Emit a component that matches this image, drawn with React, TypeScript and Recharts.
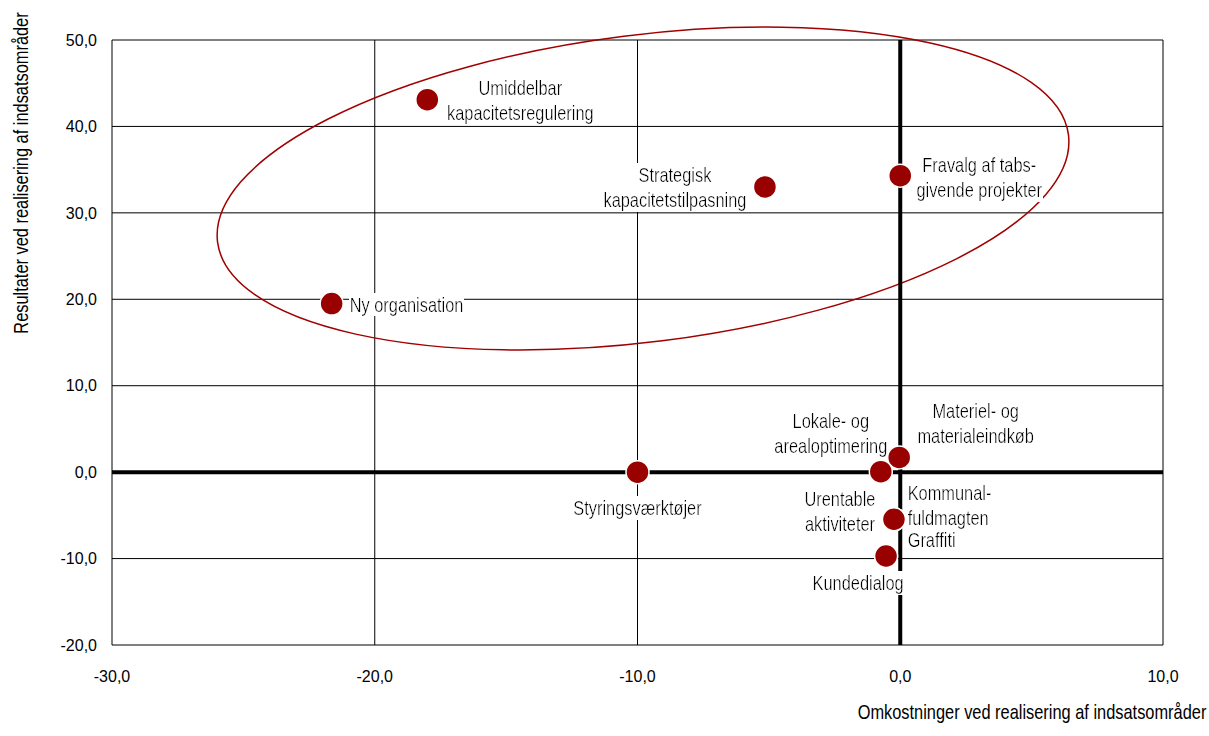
import { ScatterChart, Scatter, XAxis, YAxis, CartesianGrid, ReferenceLine, ReferenceArea } from "recharts";

// indsatsområder: label text (\n = line break), cost (x) and result (y)
const CATEGORIES = [
  "Umiddelbar\nkapacitetsregulering",
  "Strategisk\nkapacitetstilpasning",
  "Fravalg af tabs-\ngivende projekter",
  "Ny organisation",
  "Styringsværktøjer",
  "Lokale- og\narealoptimering",
  "Materiel- og\nmaterialeindkøb",
  "Urentable\naktiviteter",
  "Kommunal-\nfuldmagten",
  "Graffiti",
  "Kundedialog",
];
const COSTS = [-18.0, -5.15, 0.0, -21.64, -10.0, -0.74, -0.04, -0.24, -0.24, -0.24, -0.54];
const RESULTS = [43.1, 33.0, 34.3, 19.5, 0.0, 0.05, 1.7, -5.45, -5.45, -5.45, -9.7];

const X_TICKS = [-30, -20, -10, 0, 10];
const Y_TICKS = [-20, -10, 0, 10, 20, 30, 40, 50];

// the hand-drawn ellipse round the top group, as a box in data units
const ELLIPSE_X = [-26.0, 6.42];
const ELLIPSE_Y = [14.13, 51.5];

// label placement (pixels from the dot)
const LABEL_DX = [93, -90, 79, 18, 0, -50, 76.5, -54, 13.7, 13.7, -28];
const LABEL_DY = [-12, -11.5, -11, 1, 35.6, -50.7, -46.7, -20.6, -26, 20.4, 27.3];
const LABEL_ANCHOR = ["middle", "middle", "middle", "start", "middle", "middle", "middle", "middle", "start", "start", "middle"];
const LINE_GAP = 25;

const FONT = "'Liberation Sans', Arial, sans-serif";
const NARROW = 0.82; // no Arial Narrow installed: squeeze Liberation Sans
const RED = "#990000";

const data = CATEGORIES.map((name, i) => ({ name, x: COSTS[i], y: RESULTS[i], i }));

const fmt = (v: number) => v.toFixed(1).replace(".", ",");

const Dot = (props: any) => {
  const { cx, cy, payload } = props;
  const i = payload.i;
  const lines = payload.name.split("\n");
  const fid = `lblbg-${i}`;
  return (
    <g>
      <defs>
        <filter id={fid} x="0" y="0" width="1" height="1">
          <feFlood floodColor="#ffffff" />
          <feComposite in="SourceGraphic" operator="over" />
        </filter>
      </defs>
      <g transform={`translate(${cx + LABEL_DX[i]} ${cy + LABEL_DY[i]}) scale(${NARROW} 1)`}>
        <text filter={`url(#${fid})`} fontFamily={FONT} fontSize={20} fill="#000" textAnchor={LABEL_ANCHOR[i]}>
          {lines.map((l: string, k: number) => (
            <tspan key={k} x={0} y={k * LINE_GAP} dy="0.35em">
              {l}
            </tspan>
          ))}
        </text>
      </g>
      <circle cx={cx} cy={cy} r={11.5} fill={RED} stroke="#ffffff" strokeWidth={1.5} />
    </g>
  );
};

const EllipseShape = (p: any) => {
  const cx = p.x + p.width / 2;
  const cy = p.y + p.height / 2;
  return (
    <ellipse
      cx={cx}
      cy={cy}
      rx={(p.width / 2) * 1.0068}
      ry={(p.height / 2) * 0.9505}
      transform={`rotate(-7.18 ${cx} ${cy})`}
      fill="none"
      stroke="#A00000"
      strokeWidth={1.5}
    />
  );
};

export default function App() {
  return (
    <div style={{ position: "absolute", left: 0, top: 0, background: "#fff" }}>
      <ScatterChart width={1209} height={736} margin={{ top: 40, right: 46, bottom: 0, left: 0 }}>
        <CartesianGrid stroke="#000" strokeWidth={1} fill="none" />
        <XAxis
          type="number"
          dataKey="x"
          domain={[-30, 10]}
          ticks={X_TICKS}
          interval={0}
          tickFormatter={fmt}
          axisLine={false}
          tickLine={false}
          tickSize={0}
          tickMargin={26}
          height={91}
          tick={{ fill: "#000", fontSize: 16, fontFamily: FONT }}
          label={{
            content: () => (
              <g transform={`translate(1032 712) scale(${NARROW} 1)`}>
                <text x={0} y={0} dy="0.35em" textAnchor="middle" fontFamily={FONT} fontSize={20} fill="#000">
                  Omkostninger ved realisering af indsatsområder
                </text>
              </g>
            ),
          }}
        />
        <YAxis
          type="number"
          dataKey="y"
          domain={[-20, 50]}
          ticks={Y_TICKS}
          interval={0}
          tickFormatter={fmt}
          axisLine={false}
          tickLine={false}
          tickSize={0}
          tickMargin={15}
          width={112}
          tick={{ fill: "#000", fontSize: 16, fontFamily: FONT }}
          label={{
            content: () => (
              <g transform={`translate(20.5 173) rotate(-90) scale(${NARROW} 1)`}>
                <text x={0} y={0} dy="0.35em" textAnchor="middle" fontFamily={FONT} fontSize={20} fill="#000">
                  Resultater ved realisering af indsatsområder
                </text>
              </g>
            ),
          }}
        />
        <ReferenceLine x={0} stroke="#000" strokeWidth={4} />
        <ReferenceLine y={0} stroke="#000" strokeWidth={4} />
        <Scatter data={data} shape={<Dot />} isAnimationActive={false} />
        <ReferenceArea
          x1={ELLIPSE_X[0]}
          x2={ELLIPSE_X[1]}
          y1={ELLIPSE_Y[0]}
          y2={ELLIPSE_Y[1]}
          ifOverflow="visible"
          shape={<EllipseShape />}
        />
      </ScatterChart>
    </div>
  );
}
